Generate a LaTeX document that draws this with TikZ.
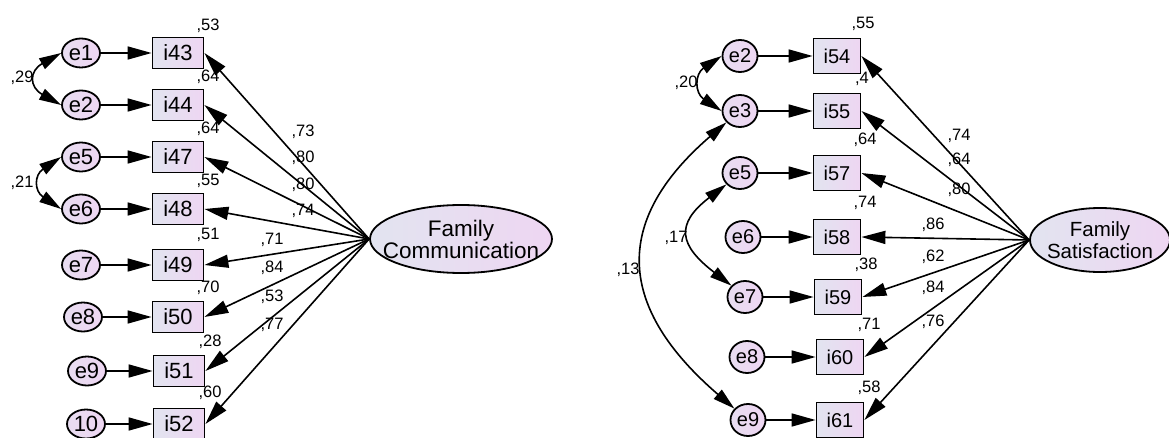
\documentclass[tikz,border=0pt]{standalone}
\usepackage{fontspec}
\setmainfont{Liberation Sans}
\usetikzlibrary{arrows.meta,shapes.geometric}
\definecolor{lowblue}{RGB}{226,228,240}
\definecolor{highpink}{RGB}{238,214,242}
\tikzset{
  obs/.style={draw,line width=1.8pt,left color=lowblue,right color=highpink,
    minimum width=51pt,minimum height=31pt,inner sep=0pt,font=\fontsize{22}{22}\selectfont},
  err/.style={ellipse,draw,line width=1.8pt,left color=lowblue!50!highpink,right color=highpink,
    minimum width=38pt,minimum height=29pt,inner sep=0pt,font=\fontsize{22}{22}\selectfont},
  lat/.style={ellipse,draw,line width=1.8pt,left color=lowblue,right color=highpink,inner sep=0pt},
  est/.style={font=\fontsize{16.5}{16.5}\selectfont,inner sep=0pt},
  arr/.style={line width=1.6pt,-{Triangle[length=24pt,width=13pt]}},
  cov/.style={line width=1.6pt,{Triangle[length=22pt,width=12pt]}-{Triangle[length=22pt,width=12pt]}}
}
\begin{document}
\begin{tikzpicture}[x=1pt,y=1pt]
\useasboundingbox (0,0) rectangle (1169,437);
% family communication
\node[lat,minimum width=182pt,minimum height=68pt] (FC) at (461,198) {};
\node[align=center,inner sep=0pt,font=\fontsize{22.5}{20}\selectfont] (FCtext) at (FC) {Family\\Communication};

\node[err] (ce1) at (81,384) {e1};   \node[obs] (i43) at (178,384) {i43};
\node[err] (ce2) at (81,332) {e2};   \node[obs] (i44) at (178,332) {i44};
\node[err] (ce5) at (81,280) {e5};   \node[obs] (i47) at (178,280) {i47};
\node[err] (ce6) at (81,228) {e6};   \node[obs] (i48) at (178,228) {i48};
\node[err] (ce7) at (81,172) {e7};   \node[obs] (i49) at (178,172) {i49};
\node[err] (ce8) at (83,120) {e8};   \node[obs] (i50) at (178,120) {i50};
\node[err] (ce9) at (87,66) {e9};    \node[obs] (i51) at (179,66) {i51};
\node[err] (ce10) at (86,13) {10};   \node[obs] (i52) at (179,13) {i52};

\foreach \e/\i in {ce1/i43,ce2/i44,ce5/i47,ce6/i48,ce7/i49,ce8/i50,ce9/i51,ce10/i52}
  \draw[arr] (\e) -- (\i);
\foreach \i in {i43,i44,i47,i48,i49,i50,i51,i52}
  \draw[arr] (FC.west) -- (\i.east);

\draw[cov] (ce1.west) .. controls +(-32,-18) and +(-32,18) .. (ce2.west);
\draw[cov] (ce5.west) .. controls +(-27,-18) and +(-27,18) .. (ce6.west);
\node[est] (r29) at (22,359) {,29};
\node[est] (r21) at (22,254) {,21};

% squared multiple correlations
\node[est] (s43) at (208,411) {,53};
\node[est] (s44) at (208,360) {,64};
\node[est] (s47) at (208,308) {,64};
\node[est] (s48) at (208,256) {,55};
\node[est] (s49) at (208,202) {,51};
\node[est] (s50) at (208,149) {,70};
\node[est] (s51) at (210,95) {,28};
\node[est] (s52) at (210,44) {,60};
% loadings
\node[est] (l43) at (303,305) {,73};
\node[est] (l44) at (303,279) {,80};
\node[est] (l47) at (303,252) {,80};
\node[est] (l48) at (303,226) {,74};
\node[est] (l49) at (272,197) {,71};
\node[est] (l50) at (272,169) {,84};
\node[est] (l51) at (272,140) {,53};
\node[est] (l52) at (272,112) {,77};

% family satisfaction
\node[lat,minimum width=140pt,minimum height=64pt] (FS) at (1100,197) {};
\node[align=center,inner sep=0pt,font=\fontsize{20.5}{22}\selectfont] (FStext) at (FS) {Family\\Satisfaction};

\tikzset{
  obs/.append style={minimum width=47pt,minimum height=35pt,font=\fontsize{20}{20}\selectfont},
  err/.append style={minimum width=35pt,minimum height=32pt,font=\fontsize{20}{20}\selectfont}
}
\node[err] (se2) at (740,381) {e2};  \node[obs] (i54) at (837,381) {i54};
\node[err] (se3) at (740,326) {e3};  \node[obs] (i55) at (837,326) {i55};
\node[err] (se5) at (740,264) {e5};  \node[obs] (i57) at (837,264) {i57};
\node[err] (se6) at (743,200) {e6};  \node[obs] (i58) at (837,200) {i58};
\node[err] (se7) at (745,140) {e7};  \node[obs] (i59) at (838,140) {i59};
\node[err] (se8) at (747,80) {e8};   \node[obs] (i60) at (840,80) {i60};
\node[err] (se9) at (748,17) {e9};   \node[obs] (i61) at (840,17) {i61};

\foreach \e/\i in {se2/i54,se3/i55,se5/i57,se6/i58,se7/i59,se8/i60,se9/i61}
  \draw[arr] (\e) -- (\i);
\foreach \i in {i54,i55,i57,i58,i59,i60,i61}
  \draw[arr] (FS.west) -- (\i.east);

\draw[cov] (se2.west) .. controls +(-27,-18) and +(-27,18) .. (se3.west);
\draw[cov] (se5.220) .. controls +(-52,-40) and +(-52,40) .. (se7.140);
\draw[cov] (se3.220) .. controls +(-116,-100) and +(-116,100) .. (se9.140);
\node[est] (r20) at (686,354) {,20};
\node[est] (r17) at (676,199) {,17};
\node[est] (r13) at (628,167) {,13};

\node[est] (s54) at (863,413) {,55};
\node[est] (s55) at (862,358) {,4};
\node[est] (s57) at (865,297) {,64};
\node[est] (s58) at (865,234) {,74};
\node[est] (s59) at (866,172) {,38};
\node[est] (s60) at (869,112) {,71};
\node[est] (s61) at (869,49) {,58};

\node[est] (l54) at (959,301) {,74};
\node[est] (l55) at (959,277) {,64};
\node[est] (l57) at (959,247) {,80};
\node[est] (l58) at (933,212) {,86};
\node[est] (l59) at (933,180) {,62};
\node[est] (l60) at (933,149) {,84};
\node[est] (l61) at (933,115) {,76};
\end{tikzpicture}
\end{document}
